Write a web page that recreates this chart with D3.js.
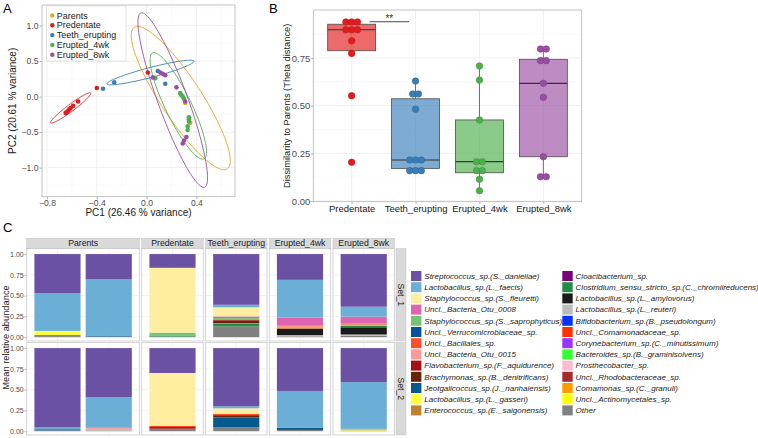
<!DOCTYPE html>
<html><head><meta charset="utf-8">
<script src="https://cdn.jsdelivr.net/npm/d3@7"></script>
<style>
body{margin:0;background:#fff}
svg text{font-family:"Liberation Sans",Arial,Helvetica,sans-serif}
</style>
</head><body>
<svg id="c" width="758" height="438"></svg>
<script>
// ================= DATA =================
// Panel A : PCA
const pcaGroups = ["Parents","Predentate","Teeth_erupting","Erupted_4wk","Erupted_8wk"];
const groupColors = ["#EBA31F","#E41A1C","#377EB8","#4DAF4A","#984EA3"];
const pcaParents = [[0.31,-0.09],[0.35,-0.37]];
const pcaPredentate = [[-0.40,0.12],[0.01,0.34],[-0.55,-0.07],[-0.59,-0.13],[-0.61,-0.16],[-0.62,-0.18],[-0.63,-0.20],[-0.64,-0.22],[-0.65,-0.23]];
const pcaTeeth = [[-0.35,0.11],[-0.26,0.20],[0.09,0.36],[0.15,0.18]];
const pca4wk = [[0.07,0.26],[0.27,0.05],[0.28,0.02],[0.29,0.00],[0.30,-0.03],[0.34,-0.29],[0.34,-0.32],[0.34,-0.35],[0.33,-0.42],[0.33,-0.47]];
const pca8wk = [[0.05,0.27],[0.11,0.34],[0.13,0.32],[0.15,0.30],[0.24,0.13],[0.31,-0.07],[0.32,-0.57],[0.30,-0.62],[0.29,-0.66]];
// ellipse major-axis tips (data units) and minor/major ratio
const ellipseTips = [
  [[-0.099,0.977],[0.648,-1.018]],
  [[-0.77,-0.37],[-0.45,0.05]],
  [[-0.318,0.179],[0.381,0.499]],
  [[0.048,0.615],[0.461,-0.877]],
  [[-0.046,1.179],[0.466,-1.276]]
];
const ellipseRatio = [0.24,0.14,0.11,0.22,0.16];
const pcaXTicks = [-0.8,-0.4,0.0,0.4];
const pcaXMinor = [-0.6,-0.2,0.2,0.6];
const pcaYTicks = [-1.0,-0.5,0.0,0.5,1.0];
const pcaYMinor = [-1.25,-0.75,-0.25,0.25,0.75,1.25];

// Panel B : dissimilarity boxplots
const bGroups = ["Predentate","Teeth_erupting","Erupted_4wk","Erupted_8wk"];
const bColors = ["#E41A1C","#377EB8","#4DAF4A","#984EA3"];
const bPredentate = [0.939,0.939,0.939,0.898,0.898,0.898,0.84,0.774,0.552,0.203];
const bTeeth = [0.629,0.561,0.561,0.481,0.215,0.215,0.215,0.159,0.159,0.159];
const b4wk = [0.708,0.634,0.425,0.206,0.206,0.159,0.159,0.114,0.054];
const b8wk = [0.797,0.797,0.736,0.736,0.617,0.544,0.232,0.127,0.127];
// [whiskerLow, q1, median, q3, whiskerHigh]
const boxPredentate = [0.774,0.788,0.898,0.927,0.939];
const boxTeeth = [0.159,0.171,0.215,0.536,0.629];
const box4wk = [0.054,0.148,0.206,0.425,0.708];
const box8wk = [0.127,0.232,0.617,0.743,0.797];
const bYTicks = [0.00,0.25,0.50,0.75];
const bYMinor = [0.125,0.375,0.625,0.875];
const sigPair = ["Predentate","Teeth_erupting"];
const sigValue = 0.94;
const sigLabel = "**";

// Panel C : stacked taxa
const taxa = ["Streptococcus_sp.(S._danieliae)","Lactobacillus_sp.(L._faecis)","Staphylococcus_sp.(S._fleuretti)","Uncl._Bacteria_Otu_0008","Staphylococcus_sp.(S._saprophyticus)","Uncl._Verrucomicrobiaceae_sp.","Uncl._Bacillales_sp.","Uncl._Bacteria_Otu_0015","Flavobacterium_sp.(F._aquidurence)","Brachymonas_sp.(B._denitrificans)","Jeotgalicoccus_sp.(J._nanhaiensis)","Lactobacillus_sp.(L._gasseri)","Enterococcus_sp.(E._saigonensis)","Cloacibacterium_sp.","Clostridium_sensu_stricto_sp.(C._chromiireducens)","Lactobacillus_sp.(L._amylovorus)","Lactobacillus_sp.(L._reuteri)","Bifidobacterium_sp.(B._pseudolongum)","Uncl._Comamonadaceae_sp.","Corynebacterium_sp.(C._minutissimum)","Bacteroides_sp.(B._graminisolvens)","Prosthecobacter_sp.","Uncl._Rhodobacteraceae_sp.","Comamonas_sp.(C._granuli)","Uncl._Actinomycetales_sp.","Other"];
const taxaColors = ["#6A51A3","#6BAED6","#FFEDA0","#DF65B0","#74C476","#08519C","#FC4E2A","#FB9A99","#A50F15","#662506","#045A8D","#FFFF33","#BF812D","#7A0177","#238B45","#1A1A1A","#BDBDBD","#0033FF","#FF3300","#9933FF","#33FF33","#FFBBCC","#A52A2A","#FF9900","#FFFF00","#808080"];
const facets = ["Parents","Predentate","Teeth_erupting","Erupted_4wk","Erupted_8wk"];
const facetSampleCounts = [2,1,1,1,1];
const sets = ["Set_1","Set_2"];
const cYTicks = [0.00,0.25,0.50,0.75,1.00];
//                      0    1    2    3    4    5    6    7    8    9    10   11   12   13   14   15   16   17 18 19 20 21 22 23 24  25
const set1ParentA   = [.470,.455,0,   0,   0,   0,   0,   0,   0,   0,   0,   .047,.015,0,   0,   0,   0,   0,0,0,0,0,0,0,0,.013];
const set1ParentB   = [.300,.680,0,   0,   0,   0,   0,   0,   0,   0,   .012,0,   0,   0,   0,   0,   0,   0,0,0,0,0,0,0,0,.008];
const set1Predent   = [.165,0,   .780,0,   .035,0,   0,   0,   0,   0,   0,   0,   0,   0,   .012,0,   0,   0,0,0,0,0,0,0,0,.008];
const set1Teeth     = [.610,.030,.110,.020,.025,0,   0,   0,   .010,.025,0,   0,   .010,0,   .030,0,   0,   0,0,0,0,0,0,0,0,.130];
const set1Erupt4    = [.310,.455,0,   .095,0,   0,   .010,.020,0,   0,   0,   0,   .010,0,   0,   .075,.015,0,0,0,0,0,0,0,0,.010];
const set1Erupt8    = [.633,.120,0,   .080,.010,0,   .008,.010,0,   0,   0,   0,   0,   0,   .020,.087,.016,0,0,0,0,0,0,0,0,.016];
const set2ParentA   = [.955,.022,0,   0,   0,   0,   0,   0,   0,   0,   .013,0,   0,   0,   0,   0,   0,   0,0,0,0,0,0,0,0,.010];
const set2ParentB   = [.590,.370,0,   0,   0,   0,   0,   .012,0,   0,   0,   0,   0,   0,   0,   0,   .020,0,0,0,0,0,0,0,0,.008];
const set2Predent   = [.300,0,   .635,0,   0,   0,   .015,0,   .020,0,   0,   0,   0,   0,   0,   0,   0,   0,0,0,0,0,0,0,0,.030];
const set2Teeth     = [.700,.025,.065,0,   0,   0,   .015,0,   .010,.020,.120,0,   0,   0,   0,   0,   0,   0,0,0,0,0,0,0,0,.045];
const set2Erupt4    = [.516,.444,0,   0,   0,   0,   0,   0,   0,   0,   .025,0,   0,   0,   0,   0,   0,   0,0,0,0,0,0,0,0,.015];
const set2Erupt8    = [.410,.562,0,   0,   .010,0,   0,   0,   0,   0,   0,   .010,0,   0,   0,   0,   0,   0,0,0,0,0,0,0,0,.008];

// ================= DRAW =================
const svg = d3.select("#c");
const GRID = "#EBEBEB", GRIDMINOR = "#F4F4F4", BORDER = "#B3B3B3", TICKTXT = "#4D4D4D";

function panelLabel(t,x,y){ svg.append("text").attr("x",x).attr("y",y).attr("font-size",13).attr("fill","#000").text(t); }

// ---------- Panel A ----------
{
  const L=42,R=235,T=5,B=196.7;
  const x = d3.scaleLinear().domain([-0.84,0.71]).range([L,R]);
  const y = d3.scaleLinear().domain([-1.41,1.29]).range([B,T]);
  const g = svg.append("g");
  g.selectAll(".xm").data(pcaXMinor).join("line").attr("x1",d=>x(d)).attr("x2",d=>x(d)).attr("y1",T).attr("y2",B).attr("stroke",GRIDMINOR).attr("stroke-width",0.5);
  g.selectAll(".ym").data(pcaYMinor).join("line").attr("y1",d=>y(d)).attr("y2",d=>y(d)).attr("x1",L).attr("x2",R).attr("stroke",GRIDMINOR).attr("stroke-width",0.5);
  g.selectAll(".xg").data(pcaXTicks).join("line").attr("x1",d=>x(d)).attr("x2",d=>x(d)).attr("y1",T).attr("y2",B).attr("stroke",GRID).attr("stroke-width",0.8);
  g.selectAll(".yg").data(pcaYTicks).join("line").attr("y1",d=>y(d)).attr("y2",d=>y(d)).attr("x1",L).attr("x2",R).attr("stroke",GRID).attr("stroke-width",0.8);

  // ellipses
  ellipseTips.forEach((tp,i)=>{
    const p1=[x(tp[0][0]),y(tp[0][1])], p2=[x(tp[1][0]),y(tp[1][1])];
    const c=[(p1[0]+p2[0])/2,(p1[1]+p2[1])/2];
    const a=[(p2[0]-p1[0])/2,(p2[1]-p1[1])/2];
    const b=[-a[1]*ellipseRatio[i], a[0]*ellipseRatio[i]];
    const pts=d3.range(120).map(k=>{const t=k/120*2*Math.PI;return [c[0]+a[0]*Math.cos(t)+b[0]*Math.sin(t), c[1]+a[1]*Math.cos(t)+b[1]*Math.sin(t)];});
    g.append("path").attr("d",d3.line().curve(d3.curveLinearClosed)(pts)).attr("fill","none").attr("stroke",groupColors[i]).attr("stroke-width",0.9);
  });
  const pts=[pcaParents,pcaPredentate,pcaTeeth,pca4wk,pca8wk];
  pts.forEach((arr,i)=>{
    g.selectAll(null).data(arr).join("circle").attr("cx",d=>x(d[0])).attr("cy",d=>y(d[1])).attr("r",2.3).attr("fill",groupColors[i]);
  });
  g.append("rect").attr("x",L).attr("y",T).attr("width",R-L).attr("height",B-T).attr("fill","none").attr("stroke",BORDER).attr("stroke-width",0.8);

  const ax = g.append("g").attr("transform",`translate(0,${B})`).call(d3.axisBottom(x).tickValues(pcaXTicks).tickSize(2.5).tickFormat(d3.format(".1f")));
  const ay = g.append("g").attr("transform",`translate(${L},0)`).call(d3.axisLeft(y).tickValues(pcaYTicks).tickSize(2.5).tickFormat(d3.format(".1f")));
  [ax,ay].forEach(a=>{a.select(".domain").remove();a.selectAll("line").attr("stroke",BORDER);a.selectAll("text").attr("font-size",8.6).attr("fill",TICKTXT).attr("font-family",null);});
  ax.selectAll("text").attr("dy",null).attr("y",9.3);
  ay.selectAll("text").attr("x",-3.5);
  svg.append("text").attr("x",(L+R)/2).attr("y",216).attr("text-anchor","middle").attr("font-size",10).attr("fill","#1A1A1A").text("PC1 (26.46 % variance)");
  svg.append("text").attr("transform",`translate(16,${(T+B)/2}) rotate(-90)`).attr("text-anchor","middle").attr("font-size",10).attr("fill","#1A1A1A").text("PC2 (20.61 % variance)");

  // legend
  const lg = g.append("g");
  lg.append("rect").attr("x",46.7).attr("y",6).attr("width",79.3).attr("height",55).attr("fill","#fff").attr("stroke","#D0D0D0").attr("stroke-width",0.6);
  pcaGroups.forEach((n,i)=>{
    const yy=15.5+i*9.8;
    lg.append("circle").attr("cx",52.3).attr("cy",yy).attr("r",2.2).attr("fill",groupColors[i]);
    lg.append("text").attr("x",56.7).attr("y",yy+3.1).attr("font-size",9).attr("fill","#1A1A1A").text(n);
  });
  panelLabel("A",3,13);
}

// ---------- Panel B ----------
{
  const L=313.3,R=581.7,T=10,B=201.7;
  const x = d3.scalePoint().domain(bGroups).range([L,R]).padding(0.6);
  const step = x.step();
  const y = d3.scaleLinear().domain([-0.0037,1.0016]).range([B,T]);
  const g = svg.append("g");
  g.selectAll(null).data(bYMinor).join("line").attr("y1",d=>y(d)).attr("y2",d=>y(d)).attr("x1",L).attr("x2",R).attr("stroke",GRIDMINOR).attr("stroke-width",0.5);
  g.selectAll(null).data(bYTicks).join("line").attr("y1",d=>y(d)).attr("y2",d=>y(d)).attr("x1",L).attr("x2",R).attr("stroke",GRID).attr("stroke-width",0.8);
  g.selectAll(null).data(bGroups).join("line").attr("x1",d=>x(d)).attr("x2",d=>x(d)).attr("y1",T).attr("y2",B).attr("stroke",GRID).attr("stroke-width",0.8);

  const boxes=[boxPredentate,boxTeeth,box4wk,box8wk];
  const pts=[bPredentate,bTeeth,b4wk,b8wk];
  const bw = 0.75*step;
  bGroups.forEach((gname,i)=>{
    const cx=x(gname), s=boxes[i];
    g.append("line").attr("x1",cx).attr("x2",cx).attr("y1",y(s[0])).attr("y2",y(s[1])).attr("stroke","#4D4D4D").attr("stroke-width",0.8);
    g.append("line").attr("x1",cx).attr("x2",cx).attr("y1",y(s[3])).attr("y2",y(s[4])).attr("stroke","#4D4D4D").attr("stroke-width",0.8);
    g.append("rect").attr("x",cx-bw/2).attr("width",bw).attr("y",y(s[3])).attr("height",y(s[1])-y(s[3])).attr("fill",bColors[i]).attr("fill-opacity",0.65).attr("stroke","#4D4D4D").attr("stroke-width",0.8);
    g.append("line").attr("x1",cx-bw/2).attr("x2",cx+bw/2).attr("y1",y(s[2])).attr("y2",y(s[2])).attr("stroke","#333").attr("stroke-width",1.2);
  });
  bGroups.forEach((gname,i)=>{
    const cx=x(gname);
    const counts=d3.rollup(pts[i],v=>v.length,d=>d);
    const seen=new Map();
    pts[i].forEach(v=>{
      const n=counts.get(v), k=seen.get(v)||0; seen.set(v,k+1);
      g.append("circle").attr("cx",cx+(k-(n-1)/2)*5.8).attr("cy",y(v)).attr("r",3.3)
        .attr("fill",bColors[i]).attr("stroke",d3.color(bColors[i]).darker(0.6)).attr("stroke-width",0.5);
    });
  });
  // significance
  const sx1=x(sigPair[0])+0.28*step, sx2=x(sigPair[1])-0.1*step;
  g.append("line").attr("x1",sx1).attr("x2",sx2).attr("y1",y(sigValue)).attr("y2",y(sigValue)).attr("stroke","#333").attr("stroke-width",0.9);
  g.append("text").attr("x",(sx1+sx2)/2).attr("y",y(sigValue)+0.5).attr("text-anchor","middle").attr("font-size",10).attr("fill","#333").text(sigLabel);

  g.append("rect").attr("x",L).attr("y",T).attr("width",R-L).attr("height",B-T).attr("fill","none").attr("stroke",BORDER).attr("stroke-width",0.8);
  const ax = g.append("g").attr("transform",`translate(0,${B})`).call(d3.axisBottom(x).tickSize(2.5));
  const ay = g.append("g").attr("transform",`translate(${L},0)`).call(d3.axisLeft(y).tickValues(bYTicks).tickSize(2.5).tickFormat(d3.format(".2f")));
  [ax,ay].forEach(a=>{a.select(".domain").remove();a.selectAll("line").attr("stroke",BORDER);a.selectAll("text").attr("font-family",null);});
  ax.selectAll("text").attr("font-size",9.5).attr("fill","#1A1A1A").attr("y",3).attr("dy","0.75em");
  ay.selectAll("text").attr("font-size",9.5).attr("fill",TICKTXT).attr("x",-3);
  svg.append("text").attr("transform",`translate(290,${(T+B)/2}) rotate(-90)`).attr("text-anchor","middle").attr("font-size",9.3).attr("fill","#1A1A1A").text("Dissimilarity to Parents (Theta distance)");
  panelLabel("B",269,13);
}

// ---------- Panel C ----------
{
  const cLeft=26.7, cRight=394.5, cGap=2.2;
  const stripTop=238.3, stripH=10;
  const rows=[[248.6,341],[342.6,435]];
  const totalUnits=d3.sum(facetSampleCounts,n=>n+0.2);
  const unit=(cRight-cLeft-cGap*(facets.length-1))/totalUnits;
  const setBars=[[set1ParentA,set1ParentB,set1Predent,set1Teeth,set1Erupt4,set1Erupt8],[set2ParentA,set2ParentB,set2Predent,set2Teeth,set2Erupt4,set2Erupt8]];
  const g=svg.append("g");
  let left=cLeft, barIdx=0;
  facets.forEach((f,fi)=>{
    const n=facetSampleCounts[fi], w=(n+0.2)*unit;
    const xs=d3.scalePoint().domain(d3.range(n)).range([left+0.6*unit,left+w-0.6*unit]);
    if(n===1) xs.range([left+0.6*unit,left+0.6*unit]);
    // strip
    g.append("rect").attr("x",left).attr("y",stripTop).attr("width",w).attr("height",stripH).attr("fill","#D9D9D9").attr("stroke","#C4C4C4").attr("stroke-width",0.5);
    g.append("text").attr("x",left+w/2).attr("y",stripTop+stripH/2+3).attr("text-anchor","middle").attr("font-size",8.7).attr("fill","#1A1A1A").text(f);
    rows.forEach((r,ri)=>{
      const y=d3.scaleLinear().domain([-0.046,1.066]).range([r[1],r[0]]);
      const pg=g.append("g");
      pg.selectAll(null).data(cYTicks).join("line").attr("x1",left).attr("x2",left+w).attr("y1",d=>y(d)).attr("y2",d=>y(d)).attr("stroke",GRID).attr("stroke-width",0.6);
      pg.selectAll(null).data(d3.range(n)).join("line").attr("x1",d=>xs(d)).attr("x2",d=>xs(d)).attr("y1",r[0]).attr("y2",r[1]).attr("stroke",GRID).attr("stroke-width",0.6);
      for(let s=0;s<n;s++){
        const vals=setBars[ri][barIdx+s];
        let cum=0;
        for(let t=taxa.length-1;t>=0;t--){
          const v=vals[t]; if(!v) continue;
          pg.append("rect").attr("x",xs(s)-0.45*unit).attr("width",0.9*unit).attr("y",y(cum+v)).attr("height",y(cum)-y(cum+v)).attr("fill",taxaColors[t]);
          cum+=v;
        }
      }
      pg.append("rect").attr("x",left).attr("y",r[0]).attr("width",w).attr("height",r[1]-r[0]).attr("fill","none").attr("stroke","#C4C4C4").attr("stroke-width",0.7);
      if(fi===0){
        const ay=pg.append("g").attr("transform",`translate(${left},0)`).call(d3.axisLeft(y).tickValues(cYTicks).tickSize(2.2).tickFormat(d3.format(".2f")));
        ay.select(".domain").remove(); ay.selectAll("line").attr("stroke",BORDER);
        ay.selectAll("text").attr("font-family",null).attr("font-size",7).attr("fill",TICKTXT).attr("x",-3);
      }
    });
    left+=w+cGap; barIdx+=n;
  });
  rows.forEach((r,ri)=>{
    g.append("rect").attr("x",396).attr("y",r[0]).attr("width",10).attr("height",r[1]-r[0]).attr("fill","#D9D9D9").attr("stroke","#C4C4C4").attr("stroke-width",0.5);
    g.append("text").attr("transform",`translate(398,${(r[0]+r[1])/2}) rotate(90)`).attr("text-anchor","middle").attr("font-size",8.7).attr("fill","#1A1A1A").text(sets[ri]);
  });
  svg.append("text").attr("transform",`translate(9,337.5) rotate(-90)`).attr("text-anchor","middle").attr("font-size",9.3).attr("fill","#1A1A1A").text("Mean relative abundance");
  // legend
  const colX=[411,562.3];
  taxa.forEach((t,i)=>{
    const col=i<13?0:1, row=i%13, yy=276+row*11.2;
    g.append("rect").attr("x",colX[col]).attr("y",yy-5).attr("width",10.4).attr("height",10).attr("fill",taxaColors[i]);
    g.append("text").attr("x",colX[col]+13.3).attr("y",yy+2.8).attr("font-size",8).attr("font-style","italic").attr("fill","#1A1A1A").text(t);
  });
  panelLabel("C",3,232);
}
</script>
</body></html>
